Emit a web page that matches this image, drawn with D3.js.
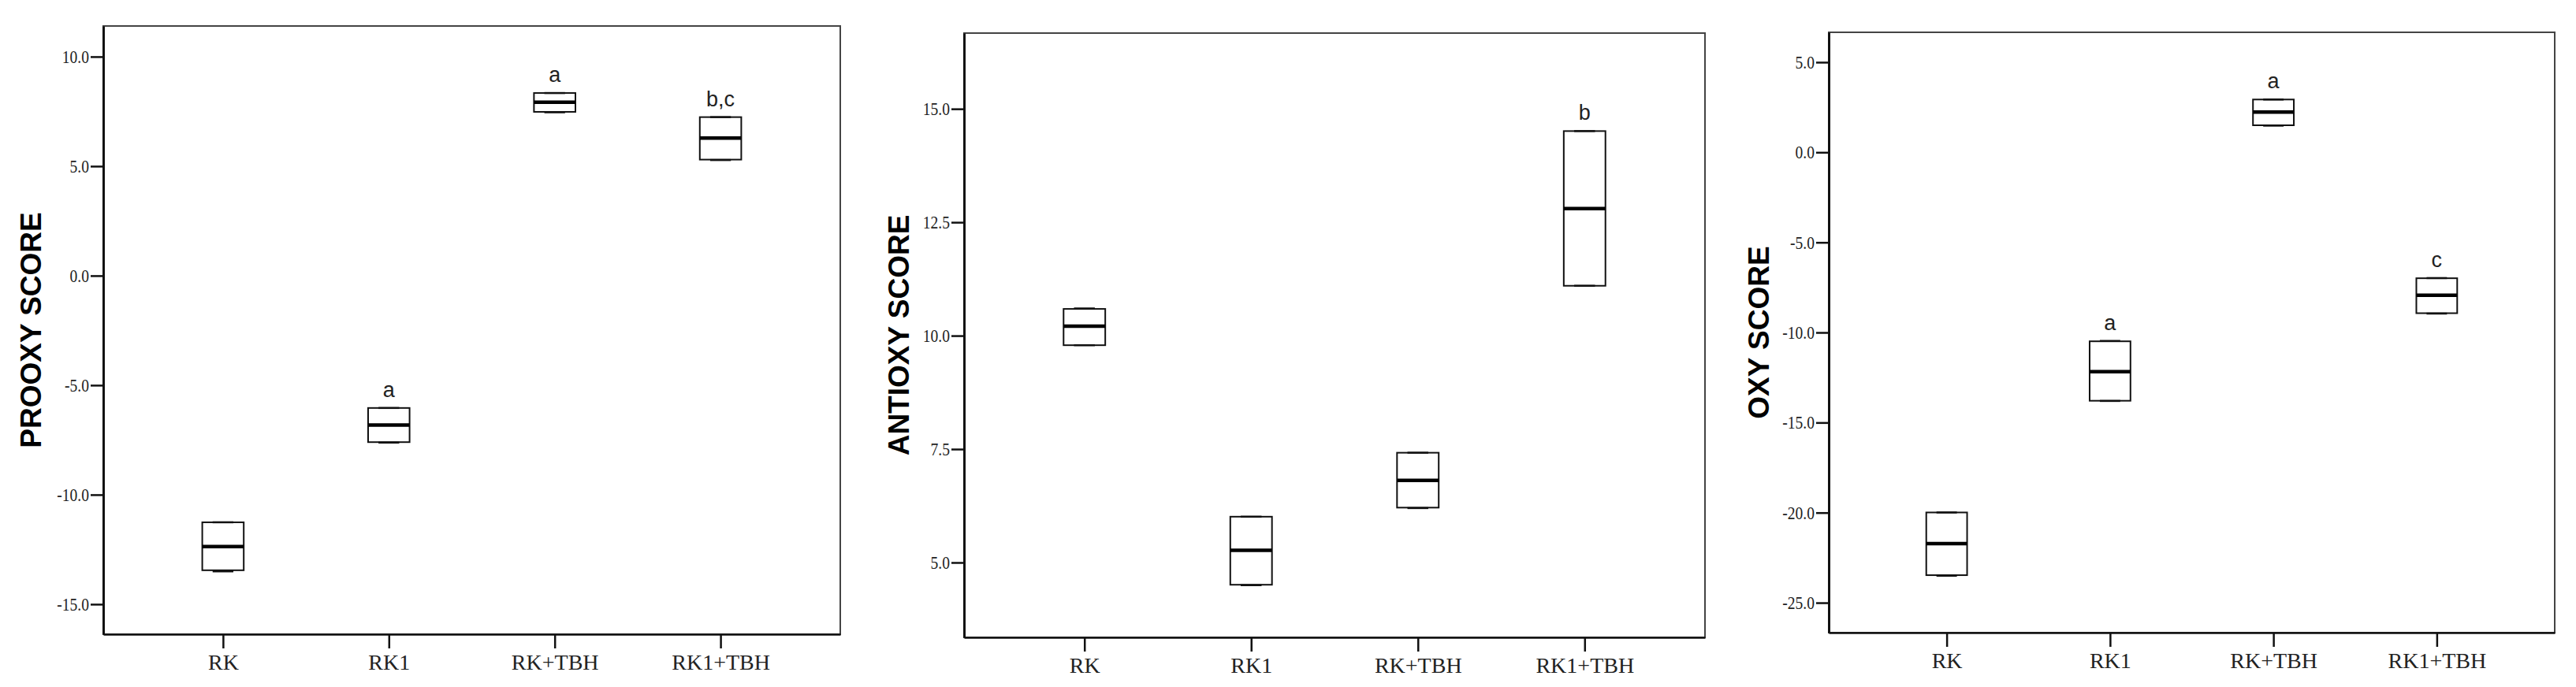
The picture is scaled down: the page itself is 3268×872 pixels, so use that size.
<!DOCTYPE html>
<html lang="en">
<head>
    <meta charset="UTF-8">
    <title>Oxidative score boxplots</title>
    <script src="https://d3js.org/d3.v7.min.js"></script>
    <style>
        body{ margin:0; background:#fff; }
        svg{ display:block; }
        .tick line{ stroke:#111; }
    </style>
</head>
<body>
<svg width="3268" height="872"></svg>

<script>
    // groups on the x axis (same for all three panels)
    const groups = ["RK", "RK1", "RK+TBH", "RK1+TBH"];

    // PROOXY SCORE
    const prooxyMin    = [-13.50, -7.62, 7.46, 5.28];
    const prooxyQ1     = [-13.45, -7.60, 7.48, 5.30];
    const prooxyMedian = [-12.37, -6.82, 7.92, 6.28];
    const prooxyQ3     = [-11.26, -6.04, 8.34, 7.24];
    const prooxyMax    = [-11.26, -6.04, 8.34, 7.24];
    const prooxyLetters = ["", "a", "a", "b,c"];
    const prooxyTicks  = [-15, -10, -5, 0, 5, 10];

    // ANTIOXY SCORE
    const antioxyMin    = [9.79, 4.50, 6.20, 11.10];
    const antioxyQ1     = [9.79, 4.51, 6.21, 11.10];
    const antioxyMedian = [10.21, 5.27, 6.81, 12.80];
    const antioxyQ3     = [10.59, 6.01, 7.42, 14.51];
    const antioxyMax    = [10.60, 6.01, 7.42, 14.51];
    const antioxyLetters = ["", "", "", "b"];
    const antioxyTicks  = [5, 7.5, 10, 12.5, 15];

    // OXY SCORE
    const oxyMin    = [-23.50, -13.80, 1.48, -8.95];
    const oxyQ1     = [-23.47, -13.79, 1.50, -8.93];
    const oxyMedian = [-21.72, -12.17, 2.23, -7.93];
    const oxyQ3     = [-19.99, -10.49, 2.93, -6.99];
    const oxyMax    = [-19.99, -10.47, 2.93, -6.98];
    const oxyLetters = ["", "a", "a", "c"];
    const oxyTicks  = [-25, -20, -15, -10, -5, 0, 5];

    // layout of each panel (frame box, y domain, title position)
    const panels = [
        {title:"PROOXY SCORE", left:131, top:33, right:1066, bottom:805, domain:[-16.37, 11.40], titleX:52,
         min:prooxyMin, q1:prooxyQ1, med:prooxyMedian, q3:prooxyQ3, max:prooxyMax, letters:prooxyLetters, ticks:prooxyTicks},
        {title:"ANTIOXY SCORE", left:1223, top:42, right:2163, bottom:809, domain:[3.35, 16.67], titleX:1153,
         min:antioxyMin, q1:antioxyQ1, med:antioxyMedian, q3:antioxyQ3, max:antioxyMax, letters:antioxyLetters, ticks:antioxyTicks},
        {title:"OXY SCORE", left:2320, top:41, right:3241, bottom:803, domain:[-26.66, 6.66], titleX:2244,
         min:oxyMin, q1:oxyQ1, med:oxyMedian, q3:oxyQ3, max:oxyMax, letters:oxyLetters, ticks:oxyTicks}
    ];

    const svg = d3.select("svg");
    const squeeze = 0.85; // SPSS tick numbers look narrow

    panels.forEach(p => {
        const g = svg.append("g").attr("class", "panel");
        const x = d3.scalePoint().domain(groups).range([p.left, p.right]).padding(0.722);
        const y = d3.scaleLinear().domain(p.domain).range([p.bottom, p.top]);
        const boxW = x.step() * 0.25;

        // frame
        g.append("rect")
            .attr("x", p.left).attr("y", p.top)
            .attr("width", p.right - p.left).attr("height", p.bottom - p.top)
            .attr("fill", "none").attr("stroke", "#444").attr("stroke-width", 2);

        // y axis
        const yAxis = g.append("g")
            .attr("transform", `translate(${p.left},0)`)
            .call(d3.axisLeft(y).tickValues(p.ticks).tickSize(16).tickSizeOuter(0)
                .tickFormat(d => d.toFixed(1)));
        yAxis.select(".domain").attr("stroke", "#111").attr("stroke-width", 3);
        yAxis.selectAll(".tick line").attr("stroke-width", 2.5);
        yAxis.selectAll(".tick text")
            .attr("font-family", "'Liberation Serif', 'Times New Roman', serif")
            .attr("font-size", 23).attr("fill", "#222")
            .attr("transform", `scale(${squeeze},1)`)
            .attr("x", -18 / squeeze);

        // x axis
        const xAxis = g.append("g")
            .attr("transform", `translate(0,${p.bottom})`)
            .call(d3.axisBottom(x).tickSize(18).tickSizeOuter(0));
        xAxis.select(".domain").attr("stroke", "#111").attr("stroke-width", 2.5);
        xAxis.selectAll(".tick line").attr("stroke-width", 2.5);
        xAxis.selectAll(".tick text")
            .attr("font-family", "'Liberation Serif', 'Times New Roman', serif")
            .attr("font-size", 28).attr("fill", "#222")
            .attr("y", 45).attr("dy", 0);

        // axis title
        g.append("text")
            .attr("transform", `translate(${p.titleX},${(p.top + p.bottom) / 2}) rotate(-90)`)
            .attr("text-anchor", "middle")
            .attr("font-family", "'Liberation Sans', Arial, sans-serif")
            .attr("font-weight", "bold").attr("font-size", 37).attr("fill", "#000")
            .text(p.title);

        // boxes
        const boxes = g.append("g").attr("class", "boxes")
            .selectAll("g").data(groups).join("g");

        boxes.append("line") // whisker
            .attr("x1", d => x(d)).attr("x2", d => x(d))
            .attr("y1", (d, i) => y(p.min[i])).attr("y2", (d, i) => y(p.max[i]))
            .attr("stroke", "#111").attr("stroke-width", 2);

        boxes.append("rect")
            .attr("x", d => x(d) - boxW / 2).attr("width", boxW)
            .attr("y", (d, i) => y(p.q3[i]))
            .attr("height", (d, i) => y(p.q1[i]) - y(p.q3[i]))
            .attr("fill", "#fff").attr("stroke", "#111").attr("stroke-width", 2);

        boxes.append("line") // median
            .attr("x1", d => x(d) - boxW / 2).attr("x2", d => x(d) + boxW / 2)
            .attr("y1", (d, i) => y(p.med[i])).attr("y2", (d, i) => y(p.med[i]))
            .attr("stroke", "#000").attr("stroke-width", 4.5);

        // whisker caps, half the box width
        ["min", "max"].forEach(k => {
            boxes.append("line")
                .attr("x1", d => x(d) - boxW / 4).attr("x2", d => x(d) + boxW / 4)
                .attr("y1", (d, i) => y(p[k][i])).attr("y2", (d, i) => y(p[k][i]))
                .attr("stroke", "#111").attr("stroke-width", 2.5);
        });

        // significance letters
        boxes.append("text")
            .attr("x", d => x(d)).attr("y", (d, i) => y(p.max[i]) - 14)
            .attr("text-anchor", "middle")
            .attr("font-family", "'Liberation Sans', Arial, sans-serif")
            .attr("font-size", 27).attr("fill", "#222")
            .text((d, i) => p.letters[i]);
    });
</script>
</body>
</html>
